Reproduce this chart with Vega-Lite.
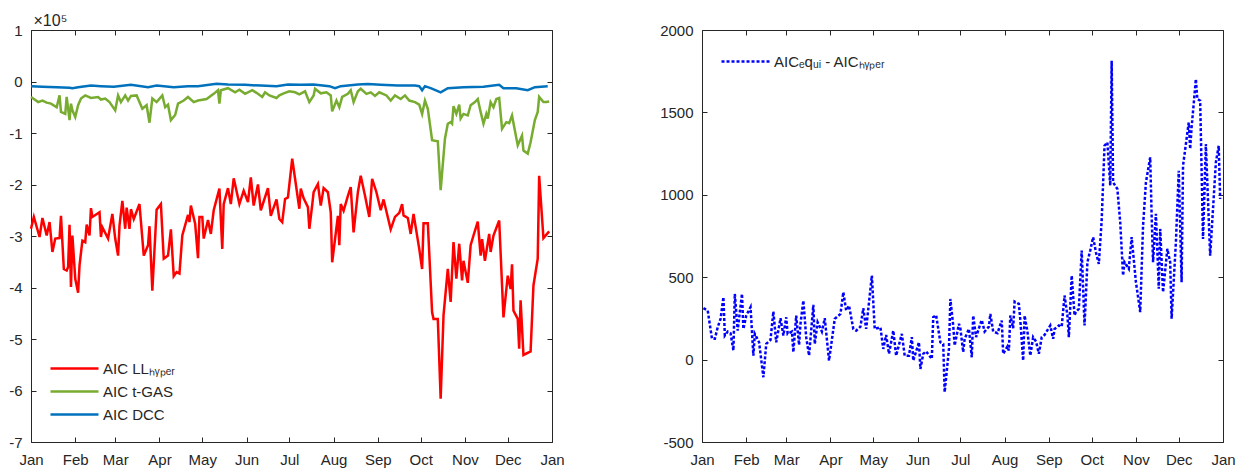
{
  "$schema": "https://vega.github.io/schema/vega-lite/v6.json",
  "padding": {"left": 8, "top": 11, "right": 5, "bottom": 0},
  "background": "white",
  "spacing": 94,
  "resolve": {"scale": {"color": "independent"}, "legend": {"color": "independent"}},
  "config": {
    "font": "Liberation Sans",
    "view": {"stroke": "#262626", "strokeWidth": 1},
    "axis": {
      "grid": false, "domain": false, "labelFontSize": 15, "labelColor": "#262626",
      "tickColor": "#262626", "tickSize": -5, "labelFlush": false, "labelOverlap": false,
      "titleFontWeight": "normal", "titleColor": "#262626", "titleFontSize": 15
    },
    "legend": {
      "symbolType": "M-3,0H3", "symbolStrokeWidth": 2.5, "labelFontSize": 15, "labelColor": "#262626",
      "symbolSize": 256, "padding": 0, "rowPadding": 5, "labelOffset": 19
    }
  },
  "datasets": {
    "ll": [
      {"day":0,"v":-2.86},{"day":2,"v":-2.63},{"day":6,"v":-3.02},{"day":8,"v":-2.65},{"day":11,"v":-2.99},{"day":13,"v":-2.73},{"day":15,"v":-3.31},{"day":17,"v":-3.05},{"day":20,"v":-3.04},{"day":21,"v":-2.61},{"day":23,"v":-3.64},{"day":25,"v":-3.67},{"day":26,"v":-3.6},{"day":27,"v":-2.78},{"day":28,"v":-3.99},{"day":29,"v":-2.99},{"day":31,"v":-3.83},{"day":33,"v":-4.1},{"day":34,"v":-3.57},{"day":36,"v":-3.09},{"day":38,"v":-3.12},{"day":39,"v":-2.78},{"day":41,"v":-2.99},{"day":42,"v":-2.46},{"day":43,"v":-2.63},{"day":48,"v":-2.54},{"day":49,"v":-3.02},{"day":50,"v":-2.83},{"day":54,"v":-3.05},{"day":57,"v":-2.57},{"day":59,"v":-3.05},{"day":61,"v":-3.38},{"day":62,"v":-2.8},{"day":64,"v":-2.32},{"day":66,"v":-2.86},{"day":67,"v":-2.45},{"day":69,"v":-2.86},{"day":70,"v":-2.48},{"day":72,"v":-2.67},{"day":76,"v":-2.38},{"day":79,"v":-3.38},{"day":82,"v":-3.18},{"day":83,"v":-2.81},{"day":85,"v":-4.06},{"day":88,"v":-2.49},{"day":91,"v":-2.38},{"day":93,"v":-3.44},{"day":96,"v":-3.38},{"day":98,"v":-2.87},{"day":100,"v":-3.78},{"day":102,"v":-3.7},{"day":104,"v":-3.73},{"day":106,"v":-2.99},{"day":110,"v":-2.59},{"day":111,"v":-2.73},{"day":112,"v":-2.41},{"day":115,"v":-2.76},{"day":117,"v":-3.43},{"day":118,"v":-2.63},{"day":120,"v":-2.63},{"day":121,"v":-3.05},{"day":124,"v":-2.69},{"day":126,"v":-2.96},{"day":128,"v":-2.5},{"day":132,"v":-2.08},{"day":134,"v":-3.25},{"day":135,"v":-2.38},{"day":138,"v":-2.07},{"day":140,"v":-2.38},{"day":142,"v":-1.88},{"day":146,"v":-2.38},{"day":149,"v":-2.12},{"day":152,"v":-2.34},{"day":154,"v":-1.86},{"day":156,"v":-2.41},{"day":159,"v":-2.0},{"day":161,"v":-2.5},{"day":166,"v":-2.07},{"day":168,"v":-2.61},{"day":172,"v":-2.29},{"day":174,"v":-2.67},{"day":176,"v":-2.73},{"day":178,"v":-2.28},{"day":180,"v":-2.25},{"day":183,"v":-1.5},{"day":188,"v":-2.47},{"day":189,"v":-2.08},{"day":191,"v":-2.27},{"day":194,"v":-2.44},{"day":195,"v":-2.86},{"day":197,"v":-2.4},{"day":198,"v":-2.15},{"day":201,"v":-1.99},{"day":203,"v":-2.41},{"day":205,"v":-2.07},{"day":208,"v":-2.15},{"day":210,"v":-2.54},{"day":211,"v":-3.51},{"day":215,"v":-2.61},{"day":216,"v":-3.18},{"day":217,"v":-2.38},{"day":219,"v":-2.51},{"day":222,"v":-2.22},{"day":224,"v":-2.05},{"day":226,"v":-2.93},{"day":229,"v":-2.15},{"day":231,"v":-1.83},{"day":234,"v":-2.22},{"day":237,"v":-2.63},{"day":239,"v":-1.89},{"day":242,"v":-2.15},{"day":245,"v":-2.5},{"day":247,"v":-2.29},{"day":252,"v":-2.87},{"day":255,"v":-2.63},{"day":258,"v":-2.55},{"day":260,"v":-2.38},{"day":261,"v":-2.6},{"day":264,"v":-2.65},{"day":266,"v":-2.96},{"day":268,"v":-2.57},{"day":272,"v":-3.25},{"day":274,"v":-3.64},{"day":275,"v":-2.75},{"day":278,"v":-2.75},{"day":281,"v":-4.48},{"day":282,"v":-4.61},{"day":285,"v":-4.61},{"day":287,"v":-6.16},{"day":289,"v":-4.54},{"day":292,"v":-3.64},{"day":294,"v":-4.28},{"day":296,"v":-3.12},{"day":298,"v":-3.83},{"day":300,"v":-3.15},{"day":302,"v":-3.86},{"day":303,"v":-3.48},{"day":306,"v":-3.91},{"day":308,"v":-3.18},{"day":310,"v":-2.99},{"day":313,"v":-2.72},{"day":315,"v":-3.38},{"day":316,"v":-3.06},{"day":318,"v":-3.48},{"day":321,"v":-2.96},{"day":322,"v":-3.31},{"day":324,"v":-2.99},{"day":328,"v":-2.7},{"day":331,"v":-4.58},{"day":334,"v":-3.77},{"day":336,"v":-4.03},{"day":337,"v":-3.55},{"day":338,"v":-4.45},{"day":341,"v":-4.61},{"day":342,"v":-5.19},{"day":343,"v":-4.25},{"day":345,"v":-5.31},{"day":350,"v":-5.24},{"day":352,"v":-3.96},{"day":355,"v":-3.44},{"day":356,"v":-1.83},{"day":359,"v":-3.04},{"day":363,"v":-2.91}
    ],
    "tgas": [
      {"day":0,"v":-0.3},{"day":2,"v":-0.34},{"day":5,"v":-0.4},{"day":8,"v":-0.37},{"day":11,"v":-0.41},{"day":14,"v":-0.43},{"day":18,"v":-0.5},{"day":20,"v":-0.27},{"day":21,"v":-0.59},{"day":24,"v":-0.63},{"day":25,"v":-0.3},{"day":27,"v":-0.75},{"day":28,"v":-0.43},{"day":29,"v":-0.56},{"day":31,"v":-0.69},{"day":33,"v":-0.46},{"day":35,"v":-0.33},{"day":38,"v":-0.27},{"day":42,"v":-0.32},{"day":47,"v":-0.3},{"day":49,"v":-0.35},{"day":52,"v":-0.33},{"day":55,"v":-0.4},{"day":59,"v":-0.56},{"day":61,"v":-0.27},{"day":63,"v":-0.4},{"day":66,"v":-0.27},{"day":68,"v":-0.37},{"day":70,"v":-0.28},{"day":74,"v":-0.27},{"day":78,"v":-0.53},{"day":81,"v":-0.46},{"day":83,"v":-0.8},{"day":85,"v":-0.33},{"day":88,"v":-0.4},{"day":92,"v":-0.27},{"day":94,"v":-0.5},{"day":96,"v":-0.45},{"day":98,"v":-0.75},{"day":101,"v":-0.65},{"day":103,"v":-0.43},{"day":107,"v":-0.37},{"day":110,"v":-0.3},{"day":114,"v":-0.4},{"day":117,"v":-0.37},{"day":123,"v":-0.34},{"day":128,"v":-0.24},{"day":131,"v":-0.17},{"day":132,"v":-0.43},{"day":133,"v":-0.17},{"day":138,"v":-0.13},{"day":143,"v":-0.21},{"day":146,"v":-0.16},{"day":150,"v":-0.24},{"day":155,"v":-0.17},{"day":158,"v":-0.22},{"day":162,"v":-0.3},{"day":164,"v":-0.21},{"day":167,"v":-0.27},{"day":172,"v":-0.32},{"day":174,"v":-0.27},{"day":177,"v":-0.23},{"day":181,"v":-0.19},{"day":185,"v":-0.21},{"day":188,"v":-0.25},{"day":192,"v":-0.19},{"day":195,"v":-0.4},{"day":198,"v":-0.27},{"day":199,"v":-0.14},{"day":203,"v":-0.23},{"day":207,"v":-0.21},{"day":210,"v":-0.27},{"day":211,"v":-0.58},{"day":214,"v":-0.37},{"day":216,"v":-0.5},{"day":218,"v":-0.3},{"day":222,"v":-0.24},{"day":224,"v":-0.17},{"day":226,"v":-0.4},{"day":229,"v":-0.19},{"day":231,"v":-0.14},{"day":235,"v":-0.24},{"day":238,"v":-0.21},{"day":241,"v":-0.28},{"day":244,"v":-0.21},{"day":249,"v":-0.27},{"day":252,"v":-0.37},{"day":255,"v":-0.27},{"day":259,"v":-0.34},{"day":262,"v":-0.27},{"day":265,"v":-0.37},{"day":269,"v":-0.4},{"day":272,"v":-0.45},{"day":274,"v":-0.63},{"day":276,"v":-0.37},{"day":278,"v":-0.53},{"day":281,"v":-1.14},{"day":285,"v":-1.16},{"day":287,"v":-2.11},{"day":290,"v":-1.11},{"day":292,"v":-0.82},{"day":294,"v":-0.79},{"day":295,"v":-0.82},{"day":296,"v":-0.48},{"day":298,"v":-0.63},{"day":300,"v":-0.45},{"day":301,"v":-0.72},{"day":303,"v":-0.63},{"day":306,"v":-0.66},{"day":308,"v":-0.46},{"day":311,"v":-0.4},{"day":313,"v":-0.34},{"day":315,"v":-0.59},{"day":317,"v":-0.82},{"day":319,"v":-0.63},{"day":320,"v":-0.72},{"day":322,"v":-0.4},{"day":324,"v":-0.5},{"day":326,"v":-0.34},{"day":328,"v":-0.32},{"day":330,"v":-0.92},{"day":333,"v":-0.79},{"day":335,"v":-0.81},{"day":337,"v":-0.66},{"day":339,"v":-0.95},{"day":341,"v":-1.24},{"day":344,"v":-1.05},{"day":345,"v":-1.34},{"day":348,"v":-1.4},{"day":350,"v":-1.18},{"day":353,"v":-0.75},{"day":355,"v":-0.59},{"day":356,"v":-0.3},{"day":359,"v":-0.4},{"day":361,"v":-0.4},{"day":363,"v":-0.39}
    ],
    "dcc": [
      {"day":0,"v":-0.09},{"day":8,"v":-0.1},{"day":18,"v":-0.11},{"day":27,"v":-0.12},{"day":29,"v":-0.13},{"day":33,"v":-0.11},{"day":42,"v":-0.08},{"day":49,"v":-0.09},{"day":58,"v":-0.1},{"day":70,"v":-0.065},{"day":82,"v":-0.11},{"day":88,"v":-0.08},{"day":100,"v":-0.11},{"day":110,"v":-0.09},{"day":117,"v":-0.09},{"day":130,"v":-0.045},{"day":138,"v":-0.06},{"day":150,"v":-0.065},{"day":161,"v":-0.08},{"day":172,"v":-0.09},{"day":180,"v":-0.06},{"day":189,"v":-0.065},{"day":198,"v":-0.06},{"day":209,"v":-0.09},{"day":213,"v":-0.13},{"day":217,"v":-0.09},{"day":229,"v":-0.06},{"day":236,"v":-0.05},{"day":245,"v":-0.065},{"day":257,"v":-0.08},{"day":269,"v":-0.08},{"day":272,"v":-0.09},{"day":274,"v":-0.17},{"day":276,"v":-0.09},{"day":280,"v":-0.13},{"day":287,"v":-0.21},{"day":292,"v":-0.13},{"day":303,"v":-0.11},{"day":317,"v":-0.1},{"day":328,"v":-0.065},{"day":331,"v":-0.13},{"day":340,"v":-0.13},{"day":348,"v":-0.17},{"day":353,"v":-0.11},{"day":362,"v":-0.09}
    ],
    "diff": [
      {"day":1,"v":312},{"day":4,"v":298},{"day":7,"v":126},{"day":9,"v":126},{"day":11,"v":196},{"day":13,"v":247},{"day":15,"v":379},{"day":16,"v":146},{"day":18,"v":170},{"day":20,"v":160},{"day":22,"v":55},{"day":23,"v":399},{"day":25,"v":176},{"day":28,"v":399},{"day":29,"v":186},{"day":31,"v":267},{"day":34,"v":318},{"day":36,"v":24},{"day":37,"v":156},{"day":40,"v":105},{"day":43,"v":-107},{"day":45,"v":95},{"day":48,"v":120},{"day":50,"v":292},{"day":52,"v":105},{"day":55,"v":251},{"day":57,"v":146},{"day":59,"v":257},{"day":60,"v":156},{"day":63,"v":170},{"day":64,"v":45},{"day":66,"v":267},{"day":68,"v":89},{"day":69,"v":217},{"day":71,"v":358},{"day":73,"v":136},{"day":75,"v":24},{"day":78,"v":332},{"day":79,"v":95},{"day":81,"v":227},{"day":84,"v":170},{"day":86,"v":251},{"day":89,"v":-6},{"day":93,"v":247},{"day":97,"v":277},{"day":99,"v":409},{"day":101,"v":298},{"day":103,"v":328},{"day":106,"v":186},{"day":108,"v":176},{"day":111,"v":200},{"day":113,"v":312},{"day":115,"v":186},{"day":119,"v":510},{"day":121,"v":186},{"day":125,"v":196},{"day":127,"v":65},{"day":129,"v":150},{"day":131,"v":35},{"day":134,"v":176},{"day":136,"v":24},{"day":140,"v":156},{"day":142,"v":24},{"day":145,"v":24},{"day":147,"v":136},{"day":148,"v":-6},{"day":152,"v":105},{"day":153,"v":-57},{"day":155,"v":35},{"day":157,"v":50},{"day":161,"v":4},{"day":162,"v":257},{"day":164,"v":270},{"day":167,"v":105},{"day":169,"v":95},{"day":170,"v":-198},{"day":173,"v":65},{"day":174,"v":368},{"day":176,"v":207},{"day":177,"v":85},{"day":180,"v":217},{"day":181,"v":190},{"day":183,"v":45},{"day":184,"v":126},{"day":187,"v":186},{"day":189,"v":14},{"day":190,"v":267},{"day":192,"v":136},{"day":195,"v":217},{"day":196,"v":240},{"day":198,"v":170},{"day":201,"v":200},{"day":202,"v":277},{"day":204,"v":170},{"day":207,"v":160},{"day":210,"v":237},{"day":211,"v":35},{"day":214,"v":80},{"day":215,"v":55},{"day":216,"v":267},{"day":218,"v":190},{"day":219,"v":352},{"day":222,"v":338},{"day":223,"v":240},{"day":225,"v":-6},{"day":226,"v":267},{"day":228,"v":170},{"day":230,"v":24},{"day":232,"v":136},{"day":234,"v":110},{"day":236,"v":35},{"day":238,"v":136},{"day":240,"v":150},{"day":244,"v":207},{"day":246,"v":126},{"day":247,"v":186},{"day":250,"v":207},{"day":252,"v":200},{"day":254,"v":389},{"day":256,"v":267},{"day":257,"v":136},{"day":259,"v":510},{"day":261,"v":268},{"day":262,"v":290},{"day":264,"v":308},{"day":266,"v":662},{"day":268,"v":207},{"day":270,"v":591},{"day":272,"v":662},{"day":274,"v":743},{"day":276,"v":650},{"day":278,"v":581},{"day":280,"v":843},{"day":282,"v":1298},{"day":284,"v":1318},{"day":286,"v":1056},{"day":287,"v":1813},{"day":288,"v":1076},{"day":291,"v":1035},{"day":293,"v":833},{"day":295,"v":510},{"day":296,"v":591},{"day":299,"v":551},{"day":301,"v":743},{"day":304,"v":470},{"day":307,"v":288},{"day":309,"v":813},{"day":311,"v":1076},{"day":314,"v":1227},{"day":315,"v":874},{"day":316,"v":591},{"day":318,"v":884},{"day":320,"v":430},{"day":321,"v":793},{"day":323,"v":409},{"day":326,"v":672},{"day":328,"v":591},{"day":329,"v":248},{"day":332,"v":712},{"day":334,"v":1146},{"day":336,"v":470},{"day":337,"v":1177},{"day":341,"v":1439},{"day":342,"v":1278},{"day":343,"v":1409},{"day":346,"v":1702},{"day":347,"v":1581},{"day":349,"v":1571},{"day":351,"v":732},{"day":353,"v":1308},{"day":354,"v":1076},{"day":356,"v":631},{"day":360,"v":1197},{"day":362,"v":1298},{"day":363,"v":975}
    ]
  },
  "hconcat": [
    {
      "width": 521, "height": 412,
      "resolve": {"axis": {"x": "independent", "y": "independent"}},
      "layer": [
        {"data": {"name": "ll"}, "mark": {"type": "line", "strokeWidth": 2.5},
         "encoding": {
           "x": {"field": "day", "type": "quantitative", "scale": {"domain": [0, 365], "nice": false, "zero": false},
                 "axis": {"orient": "bottom", "title": null, "labelPadding": 15, "values": [0,31,59,90,120,151,181,212,243,273,304,334,365],
                          "labelExpr": "['Jan','Feb','Mar','Apr','May','Jun','Jul','Aug','Sep','Oct','Nov','Dec','Jan'][indexof([0,31,59,90,120,151,181,212,243,273,304,334,365], datum.value)]"}},
           "y": {"field": "v", "type": "quantitative", "scale": {"domain": [-7, 1], "nice": false, "zero": false},
                 "axis": {"orient": "left", "values": [-7,-6,-5,-4,-3,-2,-1,0,1], "labelExpr": "datum.value + ''", "labelPadding": 14, "title": "×10⁵", "titleAngle": 0, "titleAlign": "left", "titleBaseline": "alphabetic", "titleX": 2, "titleY": -5, "titleFontSize": 16}},
           "color": {"datum": "AIC LLₕᵧₚₑᵣ", "type": "nominal",
             "scale": {"domain": ["AIC LLₕᵧₚₑᵣ", "AIC t-GAS", "AIC DCC"], "range": ["#FF0000", "#77AC30", "#0072BD"]},
             "legend": {"orient": "bottom-left", "title": null, "offset": 19, "symbolOffset": 15}}}},
        {"data": {"name": "tgas"}, "mark": {"type": "line", "strokeWidth": 2.5},
         "encoding": {
           "x": {"field": "day", "type": "quantitative", "scale": {"domain": [0, 365], "nice": false, "zero": false},
                 "axis": {"orient": "top", "labels": false, "title": null, "minExtent": 0, "values": [0,31,59,90,120,151,181,212,243,273,304,334,365]}},
           "y": {"field": "v", "type": "quantitative", "scale": {"domain": [-7, 1], "nice": false, "zero": false},
                 "axis": {"orient": "right", "labels": false, "title": null, "minExtent": 0, "values": [-7,-6,-5,-4,-3,-2,-1,0,1]}},
           "color": {"datum": "AIC t-GAS", "type": "nominal",
             "scale": {"domain": ["AIC LLₕᵧₚₑᵣ", "AIC t-GAS", "AIC DCC"], "range": ["#FF0000", "#77AC30", "#0072BD"]}}}},
        {"data": {"name": "dcc"}, "mark": {"type": "line", "strokeWidth": 2.5},
         "encoding": {
           "x": {"field": "day", "type": "quantitative", "scale": {"domain": [0, 365], "nice": false, "zero": false}, "axis": null},
           "y": {"field": "v", "type": "quantitative", "scale": {"domain": [-7, 1], "nice": false, "zero": false}, "axis": null},
           "color": {"datum": "AIC DCC", "type": "nominal",
             "scale": {"domain": ["AIC LLₕᵧₚₑᵣ", "AIC t-GAS", "AIC DCC"], "range": ["#FF0000", "#77AC30", "#0072BD"]}}}}
      ]
    },
    {
      "width": 521, "height": 412,
      "data": {"name": "diff"},
      "resolve": {"axis": {"x": "independent", "y": "independent"}},
      "layer": [
        {"mark": {"type": "line", "strokeWidth": 2.5, "strokeDash": [3, 2]},
         "encoding": {
           "x": {"field": "day", "type": "quantitative", "scale": {"domain": [0, 365], "nice": false, "zero": false},
                 "axis": {"orient": "bottom", "title": null, "labelPadding": 15, "values": [0,31,59,90,120,151,181,212,243,273,304,334,365],
                          "labelExpr": "['Jan','Feb','Mar','Apr','May','Jun','Jul','Aug','Sep','Oct','Nov','Dec','Jan'][indexof([0,31,59,90,120,151,181,212,243,273,304,334,365], datum.value)]"}},
           "y": {"field": "v", "type": "quantitative", "scale": {"domain": [-500, 2000], "nice": false, "zero": false},
                 "axis": {"orient": "left", "values": [-500,0,500,1000,1500,2000], "labelExpr": "datum.value + ''", "labelPadding": 14, "title": null}},
           "color": {"datum": "AICₑqᵤᵢ - AICₕᵧₚₑᵣ", "type": "nominal",
             "scale": {"domain": ["AICₑqᵤᵢ - AICₕᵧₚₑᵣ"], "range": ["#0000FF"]},
             "legend": {"orient": "top-left", "title": null, "symbolDash": [3, 2], "offset": 22, "symbolOffset": 12}}}},
        {"mark": {"type": "line", "opacity": 0},
         "encoding": {
           "x": {"field": "day", "type": "quantitative", "scale": {"domain": [0, 365], "nice": false, "zero": false},
                 "axis": {"orient": "top", "labels": false, "title": null, "minExtent": 0, "values": [0,31,59,90,120,151,181,212,243,273,304,334,365]}},
           "y": {"field": "v", "type": "quantitative", "scale": {"domain": [-500, 2000], "nice": false, "zero": false},
                 "axis": {"orient": "right", "labels": false, "title": null, "minExtent": 0, "values": [-500,0,500,1000,1500,2000]}}}}
      ]
    }
  ]
}
